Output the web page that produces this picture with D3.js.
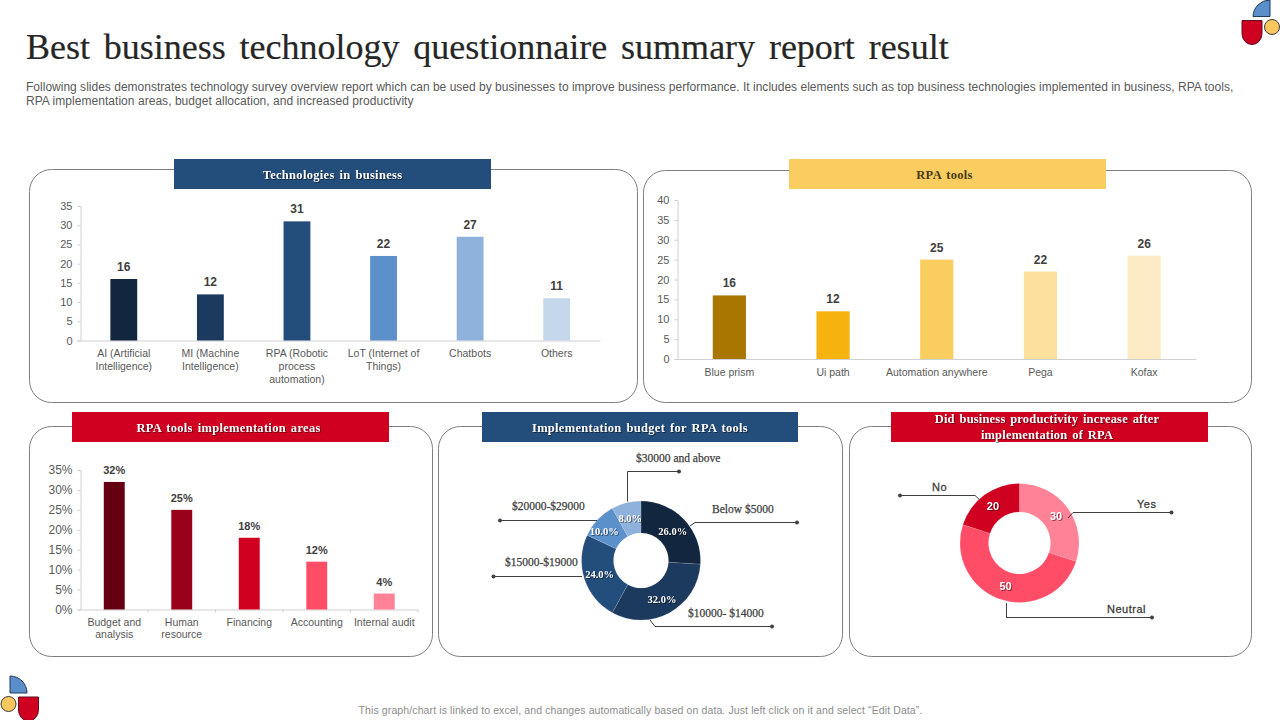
<!DOCTYPE html>
<html>
<head>
<meta charset="utf-8">
<script src="https://cdn.jsdelivr.net/npm/d3@7/dist/d3.min.js"></script>
<style>
  html,body{margin:0;padding:0;background:#fff;}
  svg{display:block;}
  text{font-family:"Liberation Sans",Arial,sans-serif;}
  .serif{font-family:"Liberation Serif","Times New Roman",serif;}
  .shadow{filter:drop-shadow(1px 1px 0.6px rgba(0,0,0,.45));}
</style>
</head>
<body>
<svg id="slide" width="1280" height="720"></svg>
<script>
// chart data
const techCats = ["AI (Artificial\nIntelligence)","MI (Machine\nIntelligence)","RPA (Robotic\nprocess\nautomation)","LoT (Internet of\nThings)","Chatbots","Others"];
const techVals = [16,12,31,22,27,11];
const techTicks = [0,5,10,15,20,25,30,35];
const toolCats = ["Blue prism","Ui path","Automation anywhere","Pega","Kofax"];
const toolVals = [16,12,25,22,26];
const toolTicks = [0,5,10,15,20,25,30,35,40];
const areaCats = ["Budget and\nanalysis","Human\nresource","Financing","Accounting","Internal audit"];
const areaVals = [32,25,18,12,4];
const areaTicks = [0,5,10,15,20,25,30,35];
const budgetCats = ["Below $5000","$10000- $14000","$15000-$19000","$20000-$29000","$30000 and above"];
const budgetVals = [26,32,24,10,8];
const prodCats = ["Yes","Neutral","No"];
const prodVals = [30,50,20];

// palettes
const blues = ["#12263f","#1b3a5e","#234e7c","#5b90cb","#8fb2dd","#c5d7eb"];
const golds = ["#a97700","#f6b20e","#facd60","#fde09e","#fcebc4"];
const reds = ["#650012","#99001a","#cf0020","#ff4d67","#ff8297"];
const prodColors = ["#ff8297","#ff4d67","#cf0020"];

const svg = d3.select("#slide");

// title block
svg.append("text").attr("class","serif").attr("x",26).attr("y",59).attr("font-size",36)
  .attr("fill","#262626").attr("stroke","#262626").attr("stroke-width",0.2).attr("word-spacing",4.8)
  .text("Best business technology questionnaire summary report result");
const intro = ["Following slides demonstrates technology survey overview report which can be used by businesses to improve business performance. It includes elements such as top business technologies implemented in business, RPA tools,",
  "RPA implementation areas, budget allocation, and increased productivity"];
intro.forEach((t,i)=> svg.append("text").attr("x",26).attr("y",91+i*14).attr("font-size",12)
  .attr("fill","#595959").attr("letter-spacing",i?0.04:0.01).text(t));
svg.append("text").attr("x",640.5).attr("y",714).attr("text-anchor","middle").attr("font-size",10.5)
  .attr("fill","#8c8c8c").attr("letter-spacing",0.11).text("This graph/chart is linked to excel, and changes automatically based on data. Just left click on it and select “Edit Data”.");

// corner logos
function logo(sel, quarter, shieldX, shieldY, cx, cy){
  sel.append("path").attr("d",quarter).attr("fill","#5b8fcb").attr("stroke","#1f3a5c").attr("stroke-width",1);
  sel.append("path").attr("d",`M${shieldX},${shieldY}h20v13a10,11 0 0 1 -20,0z`).attr("fill","#cf0020").attr("stroke","#5c1020").attr("stroke-width",1);
  sel.append("circle").attr("cx",cx).attr("cy",cy).attr("r",7.5).attr("fill","#f9c75e").attr("stroke","#3c3c3c").attr("stroke-width",1);
}
logo(svg.append("g"),"M1270,0v16.5h-17a17,17 0 0 1 17,-16.5z",1242,20.5,1272,27);
logo(svg.append("g"),"M10,676a17,17 0 0 1 17,17h-17z",18.5,697,8.5,704);

// panels and headers
function panel(x0,x1,y0,y1){
  svg.append("rect").attr("x",x0).attr("y",y0).attr("width",x1-x0).attr("height",y1-y0).attr("rx",22)
    .attr("fill","#fff").attr("stroke","#7f7f7f").attr("stroke-width",1);
}
function header(x0,x1,y0,fill,color,lines,dx=0,spacing=0.3){
  svg.append("rect").attr("x",x0).attr("y",y0).attr("width",x1-x0).attr("height",30).attr("fill",fill);
  lines.forEach((t,i)=> svg.append("text").attr("class",color=="#fff"?"serif shadow":"serif").attr("x",(x0+x1)/2+dx)
    .attr("y",y0+(lines.length>1?11+i*15.5:19.5)).attr("text-anchor","middle").attr("font-size",12.5).attr("font-weight","bold")
    .attr("fill",color).attr("letter-spacing",spacing).attr("word-spacing",1.5).text(t));
}
panel(29.5,637.5,169.5,402.5); panel(643.5,1251.5,170.5,402.5);
panel(29.5,432.5,426.5,656.5); panel(438.5,842.5,426.5,656.5); panel(849.5,1251.5,426.5,656.5);
header(174,491,159,"#234e7c","#fff",["Technologies in business"]);
header(789,1106,159,"#facd60","#4a3a10",["RPA tools"],-3);
header(72,389,412,"#cf0020","#fff",["RPA tools implementation  areas"],-2);
header(482,798,412,"#234e7c","#fff",["Implementation  budget  for RPA tools"]);
header(891,1208,412,"#cf0020","#fff",["Did business productivity  increase after","implementation  of RPA"],-2.5,0.18);

// bar chart panel, box is the plot area in slide pixels
function barChart({cats,vals,ticks,colors,box,barShare,fmt=d=>d,tickFont=11,catFont=10.5,catY=12,lineH=13,valFont=12,catTicks=false}){
  const x = d3.scaleBand().domain(cats).range([box.x0,box.x1]);
  const y = d3.scaleLinear().domain([ticks[0],ticks[ticks.length-1]]).range([box.y0,box.y1]);
  const g = svg.append("g");
  const yAxis = g.append("g").attr("transform",`translate(${box.x0},0)`)
    .call(d3.axisLeft(y).tickValues(ticks).tickSize(3).tickPadding(5).tickFormat(fmt));
  const xAxis = g.append("g").attr("transform",`translate(0,${box.y0})`)
    .call(d3.axisBottom(x).tickSize(0).tickFormat(""));
  [yAxis,xAxis].forEach(a=>{ a.selectAll("path,line").attr("stroke","#d0d0d0"); });
  yAxis.selectAll("text").attr("fill","#595959").attr("font-size",tickFont).attr("font-family","Liberation Sans");
  if (catTicks){
    g.selectAll("line.cat").data(cats).enter().append("line").attr("class","cat")
      .attr("x1",d=>x(d)+x.step()).attr("x2",d=>x(d)+x.step())
      .attr("y1",box.y0).attr("y2",box.y0+3).attr("stroke","#d0d0d0");
  }
  const barW = x.step()*barShare;
  g.selectAll("rect.bar").data(vals).enter().append("rect").attr("class","bar")
    .attr("x",(d,i)=> x(cats[i])+(x.step()-barW)/2).attr("width",barW)
    .attr("y",d=>y(d)).attr("height",d=>box.y0-y(d)).attr("fill",(d,i)=>colors[i]);
  g.selectAll("text.val").data(vals).enter().append("text").attr("class","val")
    .attr("x",(d,i)=> x(cats[i])+x.step()/2).attr("y",d=>y(d)-8)
    .attr("text-anchor","middle").attr("font-size",valFont).attr("font-weight","bold").attr("fill","#404040").text(fmt);
  cats.forEach(c=>{
    c.split("\n").forEach((t,i)=> g.append("text").attr("x",x(c)+x.step()/2).attr("y",box.y0+catY+4+i*lineH)
      .attr("text-anchor","middle").attr("font-size",catFont).attr("fill","#595959").text(t));
  });
}
barChart({cats:techCats,vals:techVals,ticks:techTicks,colors:blues,barShare:0.31,
  box:{x0:80.5,x1:600,y0:340.5,y1:206}});
barChart({cats:toolCats,vals:toolVals,ticks:toolTicks,colors:golds,barShare:0.32,catY:13,
  box:{x0:677.5,x1:1196,y0:359,y1:200}});
barChart({cats:areaCats,vals:areaVals,ticks:areaTicks,colors:reds,barShare:0.31,fmt:d=>d+"%",tickFont:12,
  catY:12,lineH:12,valFont:11,catTicks:true,box:{x0:80.5,x1:418,y0:609.5,y1:470}});

// donut with labels on the ring and leader lines out to a dot
function donut({vals,colors,cx,cy,r0,r1,fmt,nudge=[],serif=false,font=10}){
  const arcs = d3.pie().sort(null)(vals);
  const arc = d3.arc().innerRadius(r0).outerRadius(r1);
  const g = svg.append("g").attr("transform",`translate(${cx},${cy})`);
  g.selectAll("path").data(arcs).enter().append("path").attr("d",arc)
    .attr("fill",(d,i)=>colors[i]).attr("stroke","#fff").attr("stroke-opacity",0.25).attr("stroke-width",0.5);
  g.selectAll("text").data(arcs).enter().append("text").attr("class",serif?"serif shadow":"shadow")
    .attr("x",(d,i)=>arc.centroid(d)[0]+(nudge[i]||0)).attr("y",d=>arc.centroid(d)[1]+4)
    .attr("text-anchor","middle").attr("font-size",font).attr("font-weight","bold").attr("fill","#fff").text(d=>fmt(d.data));
}
function leader(pts){
  svg.append("path").attr("d",d3.line()(pts)).attr("fill","none").attr("stroke","#404040").attr("stroke-width",1);
  const end = pts[pts.length-1];
  svg.append("circle").attr("cx",end[0]).attr("cy",end[1]).attr("r",2).attr("fill","#404040");
}
function callout(t,x,y,serif){
  svg.append("text").attr("class",serif?"serif":null).attr("x",x).attr("y",y).attr("font-size",serif?11.5:11)
    .attr("fill","#404040").attr("stroke","#404040").attr("stroke-width",serif?0.25:0.3)
    .attr("letter-spacing",serif?0:0.5).text(t);
}
donut({vals:budgetVals,colors:blues.slice(0,5),cx:641,cy:560.5,r0:27.5,r1:59.5,fmt:d=>d.toFixed(1)+"%",nudge:[0,0,0,-5,0],serif:true,font:10.5});
[[[690,526],[695,522.5],[797,522.5]],[[650,620],[655,626.5],[772,626.5]],[[582,576.5],[493.5,576.5]],
 [[597,520.5],[500,520.5]],[[627.5,501.5],[627.5,471.5],[679,471.5]]].forEach(leader);
callout(budgetCats[0],712,513,true); callout(budgetCats[1],688,617,true); callout(budgetCats[2],505,566,true);
callout(budgetCats[3],512,510,true); callout(budgetCats[4],636,462,true);

donut({vals:prodVals,colors:prodColors,cx:1019.5,cy:543,r0:31,r1:59.5,fmt:d=>d,font:11});
[[[1068,518],[1073,512.5],[1171.5,512.5]],[[1006.5,603],[1006.5,617.5],[1152,617.5]],[[980,500],[975,495.5],[900,495.5]]].forEach(leader);
callout(prodCats[0],1137,508,false); callout(prodCats[1],1107,613,false); callout(prodCats[2],932,491,false);
</script>
</body>
</html>
